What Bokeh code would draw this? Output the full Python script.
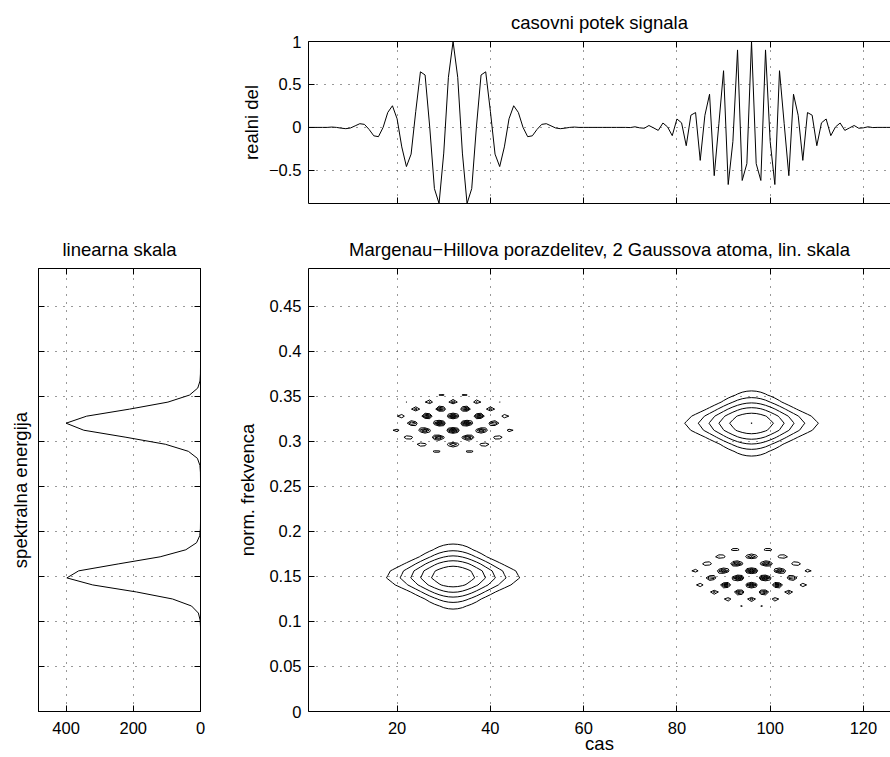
import numpy as np
from bokeh.plotting import figure
from bokeh.layouts import column, row
from bokeh.models import FixedTicker, LinearAxis, Range1d
from bokeh.embed import file_html
from bokeh.resources import INLINE

FONT = "Liberation Sans"

# ---------------- data ----------------
time_samples = list(range(1, 129))
signal_real = [
    0, 0, 0, 0, 0, 0.004, 0, -0.009, -0.015, -0.007,
    0.018, 0.043, 0.035, -0.024, -0.098, -0.108, 0, 0.174, 0.252, 0.100,
    -0.227, -0.456, -0.311, 0.187, 0.647, 0.610, 0, -0.713, -0.886, -0.299,
    0.583, 1.000, 0.583, -0.299, -0.886, -0.713, 0, 0.610, 0.647, 0.187,
    -0.311, -0.456, -0.227, 0.100, 0.252, 0.174, 0, -0.108, -0.098, -0.024,
    0.035, 0.043, 0.018, -0.007, -0.015, -0.009, 0, 0.004, 0, 0,
    0, 0, 0, 0, 0, 0, 0, 0, 0, -0.002,
    0.007, -0.005, -0.010, 0.022, -0.006, -0.035, 0.051, 0.005, -0.096, 0.098,
    0.053, -0.213, 0.142, 0.173, -0.384, 0.141, 0.386, -0.562, 0.043, 0.660,
    -0.665, -0.165, 0.902, -0.618, -0.422, 1.000, -0.422, -0.618, 0.902, -0.165,
    -0.665, 0.660, 0.043, -0.562, 0.386, 0.141, -0.384, 0.173, 0.142, -0.213,
    0.053, 0.098, -0.096, 0.005, 0.051, -0.035, -0.006, 0.022, -0.010, -0.005,
    0.007, -0.002, 0, 0, 0, 0, 0, 0,
]
freq_axis = [k / 128 for k in range(64)]
spectrum = (
    [0] * 13
    + [1.1, 6.3, 26.6, 83.2, 190.5, 320.7, 397.6, 362.6, 243.0, 120.0, 43.7, 11.7, 2.3, 0.3]
    + [0] * 7
    + [0.2, 1.7, 9.2, 36.1, 104.2, 221.8, 347.2, 399.9, 338.8, 211.3, 96.9, 32.7, 8.1, 1.5, 0.2]
    + [0] * 15
)
level_fractions = [0.2, 0.36, 0.52, 0.68, 0.84, 0.999]

time_ticks = [20, 40, 60, 80, 100, 120]
sig_ticks = [-0.5, 0, 0.5, 1]
sig_labels = {-0.5: "\u22120.5", 0: "0", 0.5: "0.5", 1: "1"}
freq_ticks = [0, 0.05, 0.1, 0.15, 0.2, 0.25, 0.3, 0.35, 0.4, 0.45]
freq_labels = {0: "0", 0.05: "0.05", 0.1: "0.1", 0.15: "0.15", 0.2: "0.2",
               0.25: "0.25", 0.3: "0.3", 0.35: "0.35", 0.4: "0.4", 0.45: "0.45"}
energy_ticks = [0, 200, 400]

titles = {
    "top": "casovni potek signala",
    "left": "linearna skala",
    "main": "Margenau\u2212Hillova porazdelitev, 2 Gaussova atoma, lin. skala",
}
axis_labels = {
    "signal": "realni del",
    "energy": "spektralna energija",
    "freq": "norm. frekvenca",
    "time": "cas",
}

# ------------- Margenau-Hill distribution of the signal -------------
n_t = len(signal_real)
x = np.asarray(signal_real, float)
X = np.fft.fft(x)
h = np.zeros(n_t)
h[0] = 1
h[1:n_t // 2] = 2
h[n_t // 2] = 1
xa = np.fft.ifft(X * h)
Xa = np.fft.fft(xa)
kk = np.arange(n_t // 2)
nn = np.arange(n_t)
tfr = np.real(xa[None, :] * np.conj(Xa[: n_t // 2, None]) *
              np.exp(-2j * np.pi * np.outer(kk, nn) / n_t))
levels = [f * tfr.max() for f in level_fractions]

# ---------------- styling helpers ----------------
TICK_FS = "16.5px"
LAB_FS = "18.5px"
XEND = 125.8
FMAX = 63 / 128


def style_axis(ax, ticks, show_labels=True, overrides=None):
    ax.ticker = FixedTicker(ticks=ticks)
    ax.axis_line_color = "black"
    ax.axis_line_width = 1
    ax.major_tick_line_color = "black"
    ax.major_tick_in = 6
    ax.major_tick_out = 0
    ax.minor_tick_line_color = None
    ax.major_label_text_font = FONT
    ax.major_label_text_font_size = TICK_FS
    ax.axis_label_text_font = FONT
    ax.axis_label_text_font_size = LAB_FS
    ax.axis_label_text_font_style = "normal"
    ax.axis_label_text_color = "black"
    if show_labels:
        ax.major_label_text_color = "black"
        ax.major_label_standoff = 7
        if overrides:
            ax.major_label_overrides = overrides
    else:
        ax.major_label_text_color = None
        ax.major_label_standoff = 0
        ax.major_label_overrides = {t: "" for t in ticks}


def style_grid(p, xt, yt):
    p.xgrid.ticker = FixedTicker(ticks=xt)
    p.ygrid.ticker = FixedTicker(ticks=yt)
    for g in (p.xgrid, p.ygrid):
        g.grid_line_color = "#333333"
        g.grid_line_dash = "1 7"
        g.grid_line_width = 1


def style_title(p, offset=0):
    p.title.align = "center"
    p.title.text_font = FONT
    p.title.text_font_size = LAB_FS
    p.title.text_font_style = "normal"
    p.title.text_color = "black"
    p.title.offset = offset
    p.title.standoff = 17


def base(**kw):
    p = figure(output_backend="svg", toolbar_location=None, **kw)
    p.background_fill_color = "white"
    p.border_fill_color = "white"
    return p


# ---------------- top: signal ----------------
top = base(width=890, height=225, title=titles["top"],
           x_range=Range1d(1, XEND), y_range=Range1d(min(signal_real), max(signal_real)),
           min_border_left=308, min_border_right=0, min_border_top=41, min_border_bottom=22)
top.outline_line_color = None
style_title(top, 4)
style_axis(top.xaxis[0], time_ticks, show_labels=False)
style_axis(top.yaxis[0], sig_ticks, overrides=sig_labels)
top.yaxis[0].axis_label = axis_labels["signal"]
top.yaxis[0].axis_label_standoff = 4
ax_top = LinearAxis()
style_axis(ax_top, time_ticks, show_labels=False)
top.add_layout(ax_top, "above")
style_grid(top, time_ticks, sig_ticks)
top.line(time_samples, signal_real, line_color="black", line_width=1)

# ---------------- left: spectrum ----------------
left = base(width=230, height=532, title=titles["left"],
            x_range=Range1d(482, 0), y_range=Range1d(0, FMAX),
            min_border_left=38, min_border_right=30, min_border_top=43, min_border_bottom=46)
left.outline_line_color = "black"
style_title(left)
style_axis(left.xaxis[0], energy_ticks)
left.xaxis[0].major_label_standoff = 10
style_axis(left.yaxis[0], freq_ticks, show_labels=False)
left.yaxis[0].axis_label = axis_labels["energy"]
left.yaxis[0].axis_label_standoff = 8
ax_lr = LinearAxis()
style_axis(ax_lr, freq_ticks, show_labels=False)
left.add_layout(ax_lr, "right")
ax_lt = LinearAxis()
style_axis(ax_lt, energy_ticks, show_labels=False)
left.add_layout(ax_lt, "above")
style_grid(left, energy_ticks, freq_ticks)
left.line(spectrum, freq_axis, line_color="black", line_width=1)

# ---------------- main: contour ----------------
main = base(width=660, height=532, title=titles["main"],
            x_range=Range1d(1, XEND), y_range=Range1d(0, FMAX),
            min_border_left=78, min_border_right=0, min_border_top=43, min_border_bottom=46)
main.outline_line_color = None
style_title(main, 4)
style_axis(main.xaxis[0], time_ticks)
main.xaxis[0].major_label_standoff = 10
main.xaxis[0].axis_label = axis_labels["time"]
main.xaxis[0].axis_label_standoff = -4
style_axis(main.yaxis[0], freq_ticks, overrides=freq_labels)
main.yaxis[0].axis_label = axis_labels["freq"]
main.yaxis[0].axis_label_standoff = 8
ax_mt = LinearAxis()
style_axis(ax_mt, time_ticks, show_labels=False)
main.add_layout(ax_mt, "above")
style_grid(main, time_ticks, freq_ticks)
main.contour(time_samples, freq_axis, tfr, levels, line_color="black", line_width=1)

layout = column(top, row(left, main, spacing=0), spacing=0)
open("out.html", "w").write(file_html(layout, INLINE))
